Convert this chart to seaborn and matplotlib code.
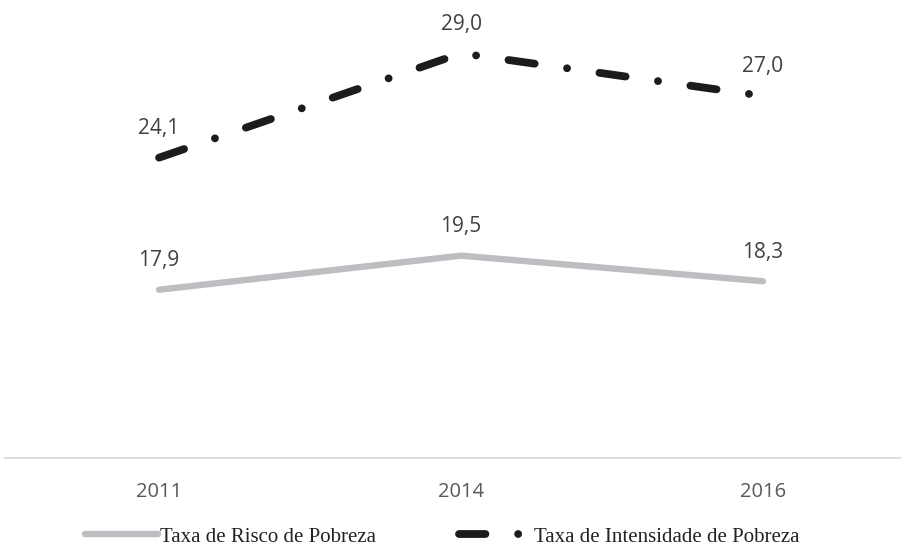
import pandas as pd
import seaborn as sns
import matplotlib.pyplot as plt

# ---- DATA ----
years = ["2011", "2014", "2016"]
risco = [17.9, 19.5, 18.3]
intensidade = [24.1, 29.0, 27.0]
series_names = ["Taxa de Risco de Pobreza", "Taxa de Intensidade de Pobreza"]

df = pd.DataFrame({
    "ano": years * 2,
    "valor": risco + intensidade,
    "serie": [series_names[0]] * 3 + [series_names[1]] * 3,
})

sns.set_style("white")
plt.rcParams["font.family"] = ["Open Sans", "DejaVu Sans"]

fig = plt.figure(figsize=(9.01, 5.5), dpi=100)
ax = fig.add_axes([0.0056, 0.1673, 0.9944, 0.7745])

sns.lineplot(
    data=df, x="ano", y="valor", hue="serie", style="serie",
    palette={series_names[0]: "#bebec2", series_names[1]: "#1c1c1c"},
    dashes={series_names[0]: "", series_names[1]: (3.4, 4.2, 0.01, 4.2)},
    sort=False, ax=ax,
)

# line widths / round caps
widths = {series_names[0]: 4.6, series_names[1]: 5.6}
for line, name in zip(ax.lines, series_names):
    line.set_linewidth(widths[name])
    line.set_solid_capstyle("round")
    line.set_dash_capstyle("round")
    line.set_label(name)

# ---- LABELS ----
for vals in (risco, intensidade):
    for i, v in enumerate(vals):
        ax.annotate(f"{v:.1f}".replace(".", ","), (i, v), xytext=(0, 17),
                    textcoords="offset points", ha="center", va="baseline",
                    fontsize=15, color="#404040")

ax.set_xlim(-0.51, 2.457)
ax.set_ylim(10, 30)
ax.set_xlabel("")
ax.set_ylabel("")
ax.set_yticks([])
for s in ["left", "right", "top"]:
    ax.spines[s].set_visible(False)
ax.spines["bottom"].set_color("#d9d9d9")
ax.spines["bottom"].set_linewidth(1.3)
ax.tick_params(axis="x", length=0, pad=17, labelsize=14.5, labelcolor="#595959")

ax.get_legend().remove()
fig.legend(
    handles=ax.lines[:2], labels=series_names, loc="lower center",
    bbox_to_anchor=(0.491, -0.028), ncol=2, frameon=False,
    handlelength=3.5, handletextpad=0.1, columnspacing=4.0,
    prop={"family": "Liberation Serif", "size": 15},
    labelcolor="#222222",
)

fig.savefig("out.png", dpi=100)
